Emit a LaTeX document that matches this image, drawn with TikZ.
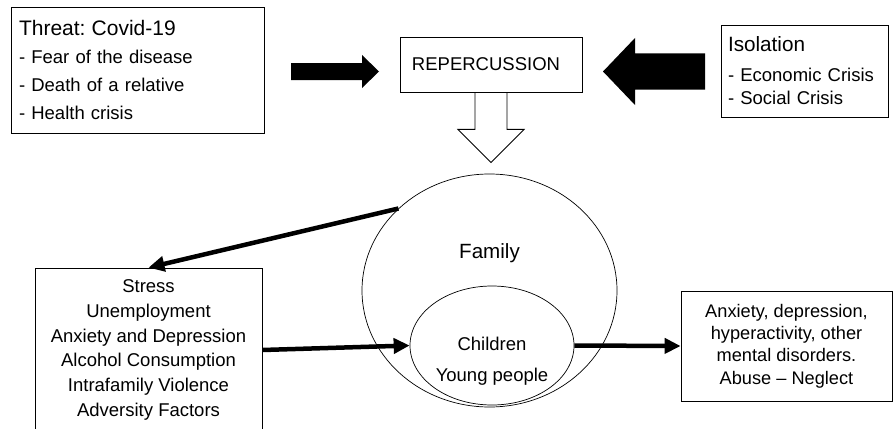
\documentclass[tikz,border=0pt]{standalone}
\usepackage{fontspec}
\setmainfont{Liberation Sans}
\usetikzlibrary{arrows.meta,shapes.geometric}

\begin{document}
\frenchspacing
\begin{tikzpicture}[x=1pt,y=-1pt]
		\tikzstyle{every node}=[font=\fontsize{18.5}{25}\selectfont]
		\tikzstyle{box} = [draw, line width=0.8pt, inner sep=0pt]
		\tikzstyle{oval} = [draw, ellipse, line width=0.7pt, inner sep=0pt]
		\tikzstyle{blank} = [align=center, inner sep=0pt, outer sep=0pt]
		\tikzstyle{flecha} = [-{Triangle[length=16pt,width=15pt]}, line width=4.5pt]
		\tikzstyle{bloque} = [line width=0.9pt, line join=miter]

		\useasboundingbox (0,0) rectangle (893,428);

		\draw (137.5,70) node[box, minimum width=253pt, minimum height=126pt, text width=237pt, align=left,
		   font=\fontsize{18.5}{28}\selectfont](threat){{\fontsize{21}{28}\selectfont Threat: Covid-19}\\- Fear of the disease\\- Death of a relative\\- Health crisis};
		\draw (491,64.5) node[box, minimum width=182pt, minimum height=55pt](rep){\hspace*{-10pt}REPERCUSSION};
		\draw (804.5,71) node[box, minimum width=167pt, minimum height=92pt, text width=153pt, align=left,
		   font=\fontsize{18.5}{23}\selectfont](isol){{\fontsize{20.7}{23}\selectfont Isolation}\\[7pt]- Economic Crisis\\- Social Crisis};

		% block arrows
		\fill (291,63) -- (362,63) -- (362,55) -- (379,71.5) -- (362,88) -- (362,80) -- (291,80) -- cycle;
		\fill (705,53.5) -- (635,53.5) -- (635,38) -- (603,71.5) -- (635,105) -- (635,89.5) -- (705,89.5) -- cycle;
		\draw[bloque] ([xshift=-16pt]rep.south) --++ (0,37) --++ (-17,0) --++ (33,33) --++ (33,-33)
		   --++ (-17,0) --++ (0,-37);

		\draw (489.5,290.5) node[oval, minimum width=255pt, minimum height=233pt](family){};
		\draw (family.center) ++(0,-37) node[blank, font=\fontsize{20.6}{25}\selectfont](famtxt){Family};
		\draw (492,345.5) node[oval, minimum width=164pt, minimum height=119pt](kids){};
		\draw (kids.center) ++(0,16) node[blank, font=\fontsize{18.5}{31}\selectfont](kidstxt){Children\\Young people};

		\draw (148.5,350) node[box, minimum width=227pt, minimum height=164pt, align=center,
		   font=\fontsize{18.5}{24.8}\selectfont](stress){Stress\\Unemployment\\Anxiety and Depression\\Alcohol Consumption\\Intrafamily Violence\\Adversity Factors};
		\draw (786.5,346) node[box, minimum width=211pt, minimum height=110pt, align=center,
		   font=\fontsize{18.2}{22.3}\selectfont](effects){Anxiety, depression,\\hyperactivity, other\\mental disorders.\\Abuse -- Neglect};

		\draw [flecha] (family.138) -- (stress.north);
		\draw [flecha] (stress.east) -- (kids.west);
		\draw [flecha] (kids.east) -- (effects.west);
	\end{tikzpicture}
\end{document}
